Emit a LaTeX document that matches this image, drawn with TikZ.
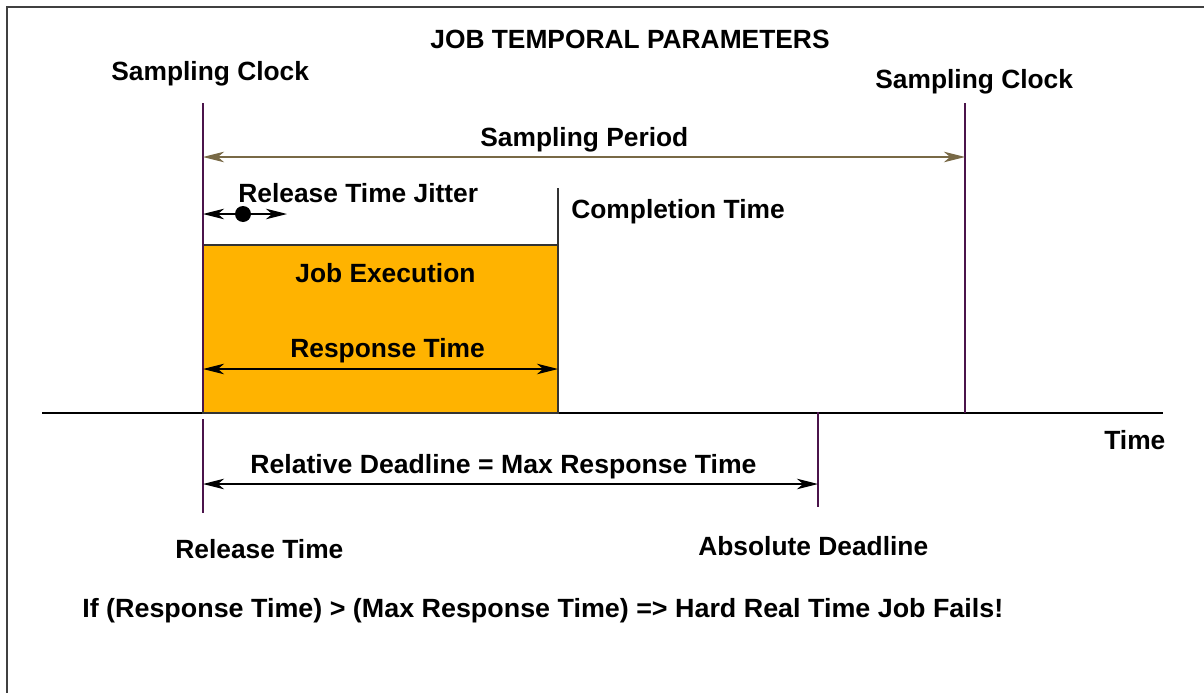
\documentclass[tikz,border=0pt]{standalone}
\usepackage{fontspec}
\setmainfont{Liberation Sans}
\usetikzlibrary{arrows.meta}

\definecolor{jobfill}{RGB}{255,179,0}
\definecolor{clockline}{RGB}{75,20,75}
\definecolor{periodline}{RGB}{120,105,70}

\tikzset{
  lbl/.style={font=\fontsize{15}{18}\selectfont\bfseries, inner sep=0pt, anchor=base west},
  span/.style={line width=0.7pt, {Stealth[length=12pt,width=6pt,inset=3.5pt]}-{Stealth[length=12pt,width=6pt,inset=3.5pt]}},
  tickline/.style={clockline, line width=0.8pt},
}

\begin{document}
\begin{tikzpicture}[x=0.02cm, y=-0.02cm]
  \useasboundingbox (0,0) rectangle (1204,693);
  %Frame
  \draw[line width=0.9pt, black!75] (7,693) -- (7,7) -- (1204,7);

  %Time axis
  \coordinate (axisL) at (42,413);
  \coordinate (axisR) at (1163,413);
  \draw[line width=0.8pt] (axisL) -- (axisR);
  \node[lbl] (time) at (1104,449) {Time};

  %Job execution
  \coordinate (jobSW) at (203,413);
  \coordinate (jobNE) at (558,245);
  \draw[fill=jobfill, draw=black!80, line width=0.7pt] (jobSW) rectangle (jobNE);
  \node[lbl] (exec) at (295,282) {Job Execution};

  %Sampling clocks
  \coordinate (clkA) at (203,103);
  \coordinate (clkAb) at (203,411);
  \coordinate (clkB) at (965,103);
  \coordinate (clkBb) at (965,413);
  \draw[tickline] (clkA) -- (clkAb);
  \draw[tickline] (clkB) -- (clkBb);
  \node[lbl] (clockA) at (111,80) {Sampling Clock};
  \node[lbl] (clockB) at (875,88) {Sampling Clock};

  %Release time and deadlines
  \coordinate (relT) at (203,419);
  \coordinate (relB) at (203,513);
  \coordinate (absT) at (818,412);
  \coordinate (absB) at (818,507);
  \draw[tickline] (relT) -- (relB);
  \draw[tickline] (absT) -- (absB);
  \coordinate (compT) at (558,188);
  \draw[line width=0.7pt, black!80] (compT) -- (jobNE);

  %Spans
  \coordinate (perL) at (203,157);
  \coordinate (perR) at (965,157);
  \draw[span, periodline] (perL) -- (perR);
  \node[lbl] (period) at (480,146) {Sampling Period};

  \coordinate (jitL) at (203,214);
  \coordinate (jitR) at (287,214);
  \draw[span] (jitL) -- (jitR);
  \fill (243,214) circle (8);
  \node[lbl] (jitter) at (238,202) {Release Time Jitter};

  \coordinate (respL) at (203,369);
  \coordinate (respR) at (558,369);
  \draw[span] (respL) -- (respR);
  \node[lbl] (resp) at (290,357) {Response Time};

  \coordinate (dlL) at (203,484);
  \coordinate (dlR) at (818,484);
  \draw[span] (dlL) -- (dlR);
  \node[lbl, xscale=1.01] (reldl) at (250,473) {Relative Deadline = Max Response Time};

  %Labels
  \node[lbl] (title) at (430,49) {JOB TEMPORAL PARAMETERS};
  \node[lbl] (compl) at (571,218) {Completion Time};
  \node[lbl] (release) at (175,558) {Release Time};
  \node[lbl] (absdl) at (698,555) {Absolute Deadline};
  \node[lbl, xscale=1.02] (fails) at (82,617) {If (Response Time) > (Max Response Time) => Hard Real Time Job Fails!};
\end{tikzpicture}
\end{document}
